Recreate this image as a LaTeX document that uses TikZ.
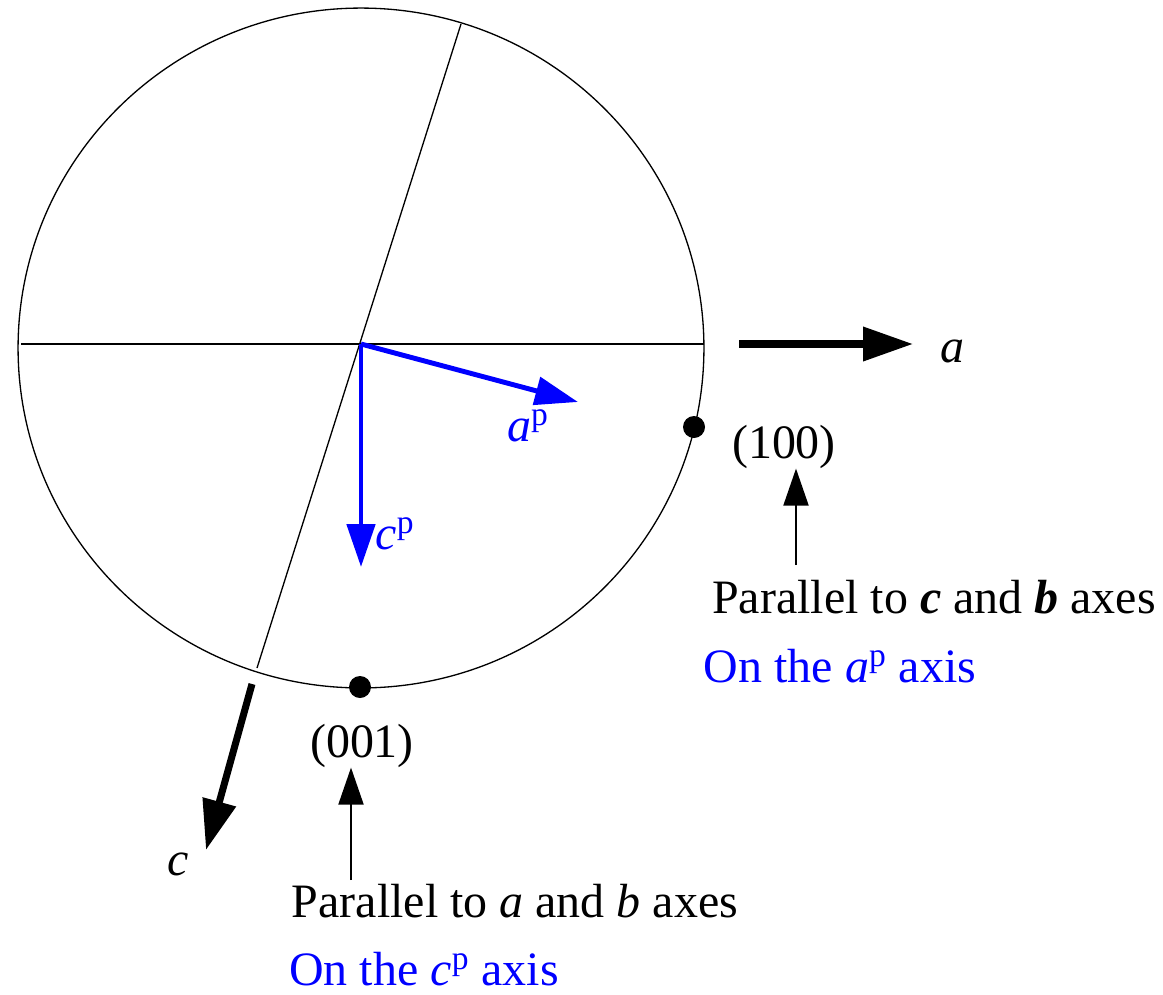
\documentclass[tikz,border=0pt]{standalone}
\usepackage{fontspec}
\setmainfont{Liberation Serif}
\usetikzlibrary{arrows.meta}
\tikzset{
  thinline/.style={line width=0.75pt},
  axisarrow/.style={line width=4pt,-{Triangle[length=1cm,width=0.66cm]}},
  parrow/.style={blue,line width=2.8pt,-{Triangle[length=0.86cm,width=0.56cm]}},
  pointer/.style={line width=1.1pt,-{Triangle[length=0.74cm,width=0.5cm]}},
  pole/.style={circle,fill=black,inner sep=0pt,minimum size=0.44cm},
  lbl/.style={anchor=base,inner sep=0pt,font=\fontsize{27.3}{32}\selectfont}
}
\begin{document}
\begin{tikzpicture}[x=0.02cm,y=-0.02cm]
\useasboundingbox (0,0) rectangle (1163,994);
% projection circle
\draw[thinline] (361,348) ellipse [x radius=6.86cm, y radius=6.8cm];
\draw[thinline] (21,344) -- (704,344);
\draw[thinline] (461,24) -- (257,668);
\coordinate (O) at (361,344);
% blue pseudo axes
\coordinate (ap) at (578,402);
\coordinate (cp) at (361,567);
\draw[parrow] (O) -- (ap);
\draw[parrow] (O) -- (cp);
\node[lbl,blue] (lap) at (528,441) {\textit{a}\textsuperscript{p}};
\node[lbl,blue] (lcp) at (395,549) {\textit{c}\textsuperscript{p}};
% crystal axes
\coordinate (a0) at (739,344);
\coordinate (a1) at (913,344);
\coordinate (c0) at (252,684);
\coordinate (c1) at (206,850);
\draw[axisarrow] (a0) -- (a1);
\draw[axisarrow] (c0) -- (c1);
\node[lbl] (la) at (952,362) {\textit{a}};
\node[lbl] (lc) at (178,875) {\textit{c}};
% poles
\node[pole] (p100) at (694,427) {};
\node[pole] (p001) at (360,687) {};
\node[lbl] (l100) at (784,458) {(100)};
\node[lbl] (l001) at (362,757) {(001)};
\node[lbl] (t100) at (934,613) {Parallel to \textbf{\textit{c}} and \textbf{\textit{b}} axes};
\node[lbl,blue] (u100) at (840,682) {On the \textit{a}\textsuperscript{p} axis};
\node[lbl] (t001) at (515,917) {Parallel to \textit{a} and \textit{b} axes};
\node[lbl,blue] (u001) at (424,985) {On the \textit{c}\textsuperscript{p} axis};
\coordinate (s100) at (796,565);
\coordinate (s001) at (351,880);
\draw[pointer] (s100) -- (s100 |- l100.south);
\draw[pointer] (s001) -- (s001 |- l001.south);
\end{tikzpicture}
\end{document}
